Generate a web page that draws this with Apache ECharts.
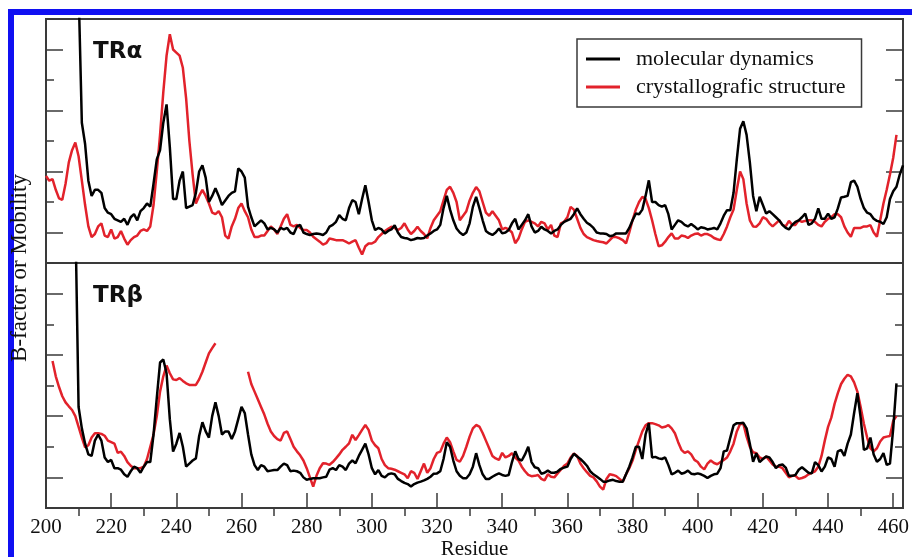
<!DOCTYPE html>
<html lang="en">
<head>
<meta charset="UTF-8">
<title>B-factor or Mobility</title>
<script src="https://cdn.jsdelivr.net/npm/echarts@6.0.0/dist/echarts.min.js"></script>
<style>
    html, body { margin: 0; padding: 0; background: #fff; }
    #main { width: 912px; height: 557px; }
</style>
</head>
<body>
<div id="main"></div>
<script type="text/javascript">
    // residue ticks on the bottom axis
    var majorTicks = [200, 220, 240, 260, 280, 300, 320, 340, 360, 380, 400, 420, 440, 460];
    var minorTicks = [210, 230, 250, 270, 290, 310, 330, 350, 370, 390, 410, 430, 450];

    // TR alpha, crystallographic B-factor (first residue 200)
    var alphaCrystStart = 200;
    var alphaCryst = [
        2.85, 2.7, 2.75, 2.4, 2.12, 2.07, 2.6, 3.3, 3.7, 3.95,
        3.5, 2.7, 1.9, 1.2, 0.85, 0.95, 1.2, 1.3, 0.9, 0.85,
        1.1, 0.8, 0.85, 1.05, 0.8, 0.6, 0.75, 0.85, 0.9, 1.05,
        1.1, 1.05, 1.2, 1.9, 3.0, 4.2, 5.6, 6.8, 7.5, 7.0,
        6.9, 6.8, 6.4, 5.4, 4.0, 2.9, 1.95, 2.2, 2.4, 2.2,
        1.95, 1.65, 1.6, 1.7, 1.5, 0.9, 0.8, 1.2, 1.45, 1.8,
        1.95, 1.7, 1.5, 1.1, 0.85, 0.85, 0.9, 0.9, 1.05, 1.2,
        1.1, 0.95, 1.2, 1.45, 1.6, 1.25, 1.2, 1.25, 1.15, 1.08,
        1.08, 1.0, 0.86, 0.78, 0.7, 0.6, 0.65, 0.8, 0.78, 0.75,
        0.75, 0.75, 0.7, 0.64, 0.7, 0.75, 0.5, 0.28, 0.55, 0.64,
        0.64, 0.7, 0.85, 0.95, 1.05, 1.12, 1.19, 1.15, 1.08, 1.15,
        1.3, 1.1, 0.95, 1.05, 1.19, 1.05, 0.95, 0.81, 1.15, 1.4,
        1.55, 1.7, 2.05, 2.4, 2.5, 2.3, 2.0, 1.4, 1.55, 1.7,
        2.05, 2.3, 2.49, 2.35, 2.0, 1.65, 1.55, 1.7, 1.55, 1.4,
        1.1, 1.15, 1.1, 1.0, 0.65, 0.8, 1.1, 1.35, 1.4, 1.35,
        1.3, 1.2, 1.35, 1.3, 1.1, 1.25, 0.9, 0.85, 1.3, 1.35,
        1.5, 1.84, 1.75, 1.45, 1.15, 0.95, 0.85, 0.8, 0.75, 0.72,
        0.7, 0.68, 0.64, 0.75, 0.86, 0.85, 0.81, 0.75, 0.64, 1.0,
        1.4, 1.75, 2.0, 2.17, 2.1, 1.8, 1.4, 0.95, 0.55, 0.58,
        0.7, 0.85, 0.97, 0.8, 0.8, 0.9, 0.88, 0.82, 0.9, 0.95,
        0.97, 0.9, 0.95, 0.95, 0.9, 0.82, 0.78, 0.75, 0.95, 1.2,
        1.5, 1.75, 2.4, 3.0, 2.75, 1.95, 1.4, 1.2, 1.19, 1.3,
        1.5, 1.45, 1.3, 1.2, 1.3, 1.4, 1.25, 1.2, 1.38, 1.25,
        1.25, 1.4, 1.35, 1.38, 1.4, 1.4, 1.35, 1.25, 1.2, 1.35,
        1.45, 1.5, 1.6, 1.6, 1.5, 1.2, 1.0, 0.86, 1.15, 1.15,
        1.15, 1.2, 1.2, 1.24, 1.0, 0.86, 1.4, 1.95, 2.4, 2.9,
        3.45, 4.2
    ];

    // TR alpha, molecular dynamics mobility (first residue 210)
    var alphaMdStart = 210;
    var alphaMd = [
        9.0, 4.6, 3.9, 2.7, 2.2, 2.4, 2.4, 2.3, 1.8, 1.65,
        1.6, 1.45, 1.4, 1.35, 1.45, 1.25, 1.5, 1.6, 1.4, 1.7,
        1.8, 1.95, 1.85, 2.6, 3.4, 3.7, 4.6, 5.2, 3.8, 2.1,
        2.1, 2.7, 3.0, 1.8, 1.85, 1.9, 2.3, 3.0, 3.2, 2.8,
        2.0, 2.2, 2.45, 2.2, 1.9, 2.05, 2.2, 2.3, 2.35, 3.1,
        3.0, 2.8, 1.85, 1.5, 1.2, 1.3, 1.4, 1.3, 1.1, 1.15,
        1.1, 1.0, 1.15, 1.1, 1.15, 1.0, 0.95, 1.2, 1.25, 1.0,
        0.95, 0.92, 0.95, 0.97, 0.95, 0.92, 1.0, 1.19, 1.25, 1.35,
        1.57, 1.45, 1.4, 1.8, 2.06, 2.0, 1.6, 2.1, 2.55, 2.0,
        1.4, 1.08, 1.15, 1.1, 0.97, 1.05, 1.1, 1.24, 1.0, 0.85,
        0.82, 0.8, 0.75, 0.78, 0.82, 0.8, 0.82, 0.9, 0.97, 1.05,
        1.1, 1.25, 1.8, 2.2, 1.75, 1.4, 1.13, 1.0, 0.92, 1.0,
        1.3, 1.84, 2.17, 1.8, 1.4, 1.05, 0.97, 0.92, 1.0, 1.13,
        0.97, 1.0, 1.08, 1.3, 1.45, 1.1, 1.25, 1.4, 1.6, 1.2,
        1.0, 1.05, 1.19, 1.1, 1.05, 0.97, 1.05, 1.1, 1.25, 1.35,
        1.4, 1.45, 1.6, 1.79, 1.6, 1.45, 1.32, 1.25, 1.15, 1.0,
        0.97, 0.97, 0.95, 0.88, 0.9, 0.97, 0.97, 0.97, 0.97, 1.15,
        1.4, 1.62, 1.6, 1.75, 2.2, 2.71, 2.0, 2.0, 1.9, 1.85,
        1.9, 1.6, 1.1, 1.25, 1.4, 1.35, 1.25, 1.2, 1.28, 1.2,
        1.1, 1.17, 1.15, 1.1, 1.12, 1.15, 1.1, 1.3, 1.55, 1.73,
        1.73, 2.3, 3.4, 4.4, 4.65, 4.2, 3.3, 2.2, 1.7, 2.17,
        1.9, 1.62, 1.7, 1.6, 1.5, 1.4, 1.25, 1.15, 1.1, 1.25,
        1.35, 1.4, 1.5, 1.62, 1.25, 1.3, 1.45, 1.79, 1.45, 1.45,
        1.62, 1.45, 1.5, 1.79, 2.15, 2.17, 2.2, 2.65, 2.7, 2.5,
        2.1, 1.8, 1.65, 1.6, 1.45, 1.38, 1.35, 1.28, 1.5, 2.1,
        2.35, 2.5, 2.9, 3.2
    ];

    // TR beta, crystallographic B-factor (first residue 202, gap 253-261)
    var betaCrystStart = 202;
    var betaCryst = [
        4.8, 4.3, 3.95, 3.65, 3.45, 3.32, 3.2, 3.0,
        2.65, 2.3, 1.98, 2.05, 2.3, 2.44, 2.44, 2.42, 2.36, 2.2,
        2.15, 2.1, 1.8, 1.84, 1.7, 1.5, 1.38, 1.3, 1.3, 1.3,
        1.35, 1.6, 2.0, 2.4, 3.0, 3.8, 4.3, 4.65, 4.4, 4.2,
        4.18, 4.24, 4.15, 4.07, 4.02, 4.02, 4.02, 4.2, 4.45, 4.75,
        5.05, 5.22, 5.38, null, null, null, null, null, null, null,
        null, null, 4.45, 4.05, 3.8, 3.55, 3.3, 3.05, 2.75, 2.5,
        2.35, 2.25, 2.2, 2.45, 2.5, 2.25, 2.0, 1.85, 1.72, 1.55,
        1.3, 1.0, 0.7, 1.05, 1.3, 1.46, 1.45, 1.41, 1.5, 1.62,
        1.75, 1.9, 2.0, 2.11, 2.39, 2.22, 2.38, 2.55, 2.71, 2.55,
        2.2, 2.05, 1.95, 1.6, 1.4, 1.3, 1.28, 1.25, 1.2, 1.15,
        1.1, 0.97, 1.2, 1.15, 0.95, 1.2, 1.45, 1.15, 1.3, 1.6,
        1.8, 1.84, 2.1, 2.3, 2.15, 1.85, 1.57, 1.51, 1.7, 2.0,
        2.33, 2.6, 2.71, 2.66, 2.45, 2.2, 1.95, 1.7, 1.62, 1.57,
        1.8, 1.65, 1.7, 1.79, 1.65, 1.55, 1.35, 1.2, 1.08, 1.04,
        1.05, 1.08, 0.95, 0.9, 1.1, 1.02, 1.0, 1.13, 1.25, 1.38,
        1.45, 1.65, 1.78, 1.7, 1.45, 1.3, 1.17, 1.05, 1.0, 0.87,
        0.7, 0.6, 0.95, 1.1, 1.08, 1.04, 0.95, 0.86, 1.1, 1.3,
        1.55, 1.9, 2.2, 2.5, 2.7, 2.77, 2.77, 2.74, 2.7, 2.63,
        2.65, 2.71, 2.6, 2.44, 2.15, 1.9, 1.8, 1.85, 1.75, 1.57,
        1.5, 1.35, 1.26, 1.45, 1.55, 1.47, 1.43, 1.5, 1.57, 1.65,
        1.85, 2.1, 2.5, 2.74, 2.75, 2.33, 2.0, 1.82, 1.79, 1.65,
        1.6, 1.68, 1.55, 1.42, 1.35, 1.35, 1.3, 1.15, 1.0, 1.05,
        1.05, 0.95, 0.98, 1.02, 1.1, 1.15, 1.2, 1.35, 1.7, 2.2,
        2.65, 2.95, 3.4, 3.75, 4.05, 4.22, 4.35, 4.3, 4.1, 3.8,
        3.3, 2.75, 2.3, 1.95, 1.85, 1.95, 2.17, 2.3, 2.33, 2.35,
        2.85, 3.0
    ];

    // TR beta, molecular dynamics mobility (first residue 209)
    var betaMdStart = 209;
    var betaMd = [
        9.6,
        3.3, 2.6, 2.1, 1.75, 1.7, 2.2, 2.4, 2.2, 1.65, 1.5,
        1.57, 1.3, 1.3, 1.25, 1.1, 1.02, 1.2, 1.35, 1.3, 1.15,
        1.35, 1.5, 1.5, 2.4, 3.6, 4.75, 4.85, 4.4, 2.9, 1.84,
        2.1, 2.45, 2.0, 1.35, 1.45, 1.55, 1.62, 2.35, 2.8, 2.5,
        2.3, 3.0, 3.45, 3.0, 2.4, 2.5, 2.5, 2.25, 2.5, 2.9,
        3.3, 3.1, 2.4, 1.75, 1.4, 1.24, 1.4, 1.35, 1.2, 1.22,
        1.24, 1.24, 1.35, 1.45, 1.4, 1.2, 1.22, 1.2, 1.15, 1.0,
        0.92, 0.95, 0.97, 0.97, 0.97, 1.0, 1.02, 1.25, 1.3, 1.24,
        1.4, 1.35, 1.24, 1.45, 1.55, 1.46, 1.7, 1.9, 2.1, 1.75,
        1.3, 1.1, 1.24, 1.05, 1.0, 1.1, 1.13, 1.1, 0.95, 0.88,
        0.82, 0.78, 0.7, 0.78, 0.83, 0.86, 0.9, 0.95, 1.02, 1.12,
        1.13, 1.2, 1.6, 2.15, 2.0, 1.55, 1.2, 1.05, 0.97, 0.97,
        1.1, 1.35, 1.79, 1.4, 1.1, 0.95, 0.95, 1.02, 1.08, 1.13,
        1.08, 1.05, 1.08, 1.5, 1.85, 1.6, 1.55, 1.75, 2.0, 1.5,
        1.33, 1.3, 1.12, 1.15, 1.22, 1.15, 1.15, 1.19, 1.28, 1.32,
        1.35, 1.6, 1.77, 1.68, 1.6, 1.5, 1.38, 1.2, 1.1, 1.03,
        0.95, 0.86, 0.86, 0.9, 0.92, 0.88, 0.86, 0.86, 1.1, 1.35,
        1.65, 2.0, 2.0, 1.6, 2.4, 2.77, 1.65, 1.67, 1.62, 1.6,
        1.65, 1.4, 1.1, 1.15, 1.22, 1.12, 1.15, 1.22, 1.12, 1.1,
        1.13, 1.1, 1.05, 0.98, 1.05, 1.1, 1.12, 1.3, 1.85, 1.88,
        2.3, 2.7, 2.77, 2.77, 2.78, 2.6, 2.1, 1.51, 1.79, 1.5,
        1.6, 1.68, 1.65, 1.5, 1.3, 1.4, 1.42, 1.32, 1.05, 1.05,
        1.08, 1.25, 1.33, 1.24, 1.15, 1.13, 1.5, 1.4, 1.19, 1.35,
        1.65, 1.6, 1.35, 1.85, 1.9, 1.7, 2.1, 2.4, 3.1, 3.75,
        2.95, 1.9, 1.95, 2.3, 1.75, 1.51, 1.6, 1.79, 1.41, 1.45,
        2.6, 4.07
    ];

    var mdName = 'molecular dynamics';
    var crystName = 'crystallografic structure';

    // pair each value with its residue number
    function toPoints(start, values) {
        return values.map(function (v, i) { return [start + i, v]; });
    }

    var serif = 'Liberation Serif';
    var frameColor = '#3a3a3a';

    // y axes: frame ticks only, on both sides of each panel
    function yAxisFor(gridIndex, position) {
        return {
            gridIndex: gridIndex,
            type: 'value',
            position: position,
            min: 0,
            max: 8,
            interval: 2,
            axisLine: { show: false },
            axisLabel: { show: false },
            splitLine: { show: false },
            axisTick: { show: true, inside: true, length: 8, lineStyle: { color: frameColor, width: 1.5 } },
            minorTick: { show: true, splitNumber: 2, length: 17, lineStyle: { color: frameColor, width: 1.5 } }
        };
    }

    var option = {
        animation: false,
        backgroundColor: '#ffffff',
        grid: [
            { left: 46, top: 19, width: 857, height: 244, show: true, borderColor: frameColor, borderWidth: 2, outerBoundsMode: 'none' },
            { left: 46, top: 263, width: 857, height: 245, show: true, borderColor: frameColor, borderWidth: 2, outerBoundsMode: 'none' }
        ],
        xAxis: [
            { gridIndex: 0, type: 'value', min: 200, max: 463, show: false },
            {
                gridIndex: 1, type: 'value', min: 200, max: 463,
                axisLine: { show: false },
                splitLine: { show: false },
                axisTick: { inside: true, length: 15, customValues: majorTicks, lineStyle: { color: frameColor, width: 1.5 } },
                axisLabel: { customValues: majorTicks, fontFamily: serif, fontSize: 21, color: '#111', margin: 9 },
                name: 'Residue',
                nameLocation: 'middle',
                nameGap: 31,
                nameTextStyle: { fontFamily: serif, fontSize: 21, color: '#111' }
            },
            {
                gridIndex: 1, type: 'value', min: 200, max: 463,
                axisLine: { show: false },
                splitLine: { show: false },
                axisLabel: { show: false },
                axisTick: { inside: true, length: 8, customValues: minorTicks, lineStyle: { color: frameColor, width: 1.5 } }
            }
        ],
        yAxis: [
            yAxisFor(0, 'left'),
            yAxisFor(0, 'right'),
            yAxisFor(1, 'left'),
            yAxisFor(1, 'right')
        ],
        legend: {
            data: [
                { name: mdName, icon: 'rect', itemStyle: { color: '#000000' } },
                { name: crystName, icon: 'rect', itemStyle: { color: '#e2222b' } }
            ],
            orient: 'vertical',
            left: 577,
            top: 39,
            padding: [9, 16, 9, 9],
            itemGap: 6,
            itemWidth: 34,
            itemHeight: 3,
            backgroundColor: '#fff',
            borderColor: frameColor,
            borderWidth: 1.5,
            borderRadius: 0,
            textStyle: { fontFamily: serif, fontSize: 22, color: '#111', padding: [0, 0, 0, 11] }
        },
        graphic: [
            { type: 'rect', shape: { x: 8, y: 9, width: 904, height: 6 }, style: { fill: '#1010f2' } },
            { type: 'rect', shape: { x: 8, y: 9, width: 6, height: 548 }, style: { fill: '#1010f2' } },
            {
                type: 'text', x: 20, y: 268, rotation: Math.PI / 2,
                style: { text: 'B-factor or Mobility', font: '23px "Liberation Serif"', fill: '#111', textAlign: 'center', textVerticalAlign: 'middle' }
            },
            {
                type: 'text', x: 93, y: 52,
                style: { text: 'TRα', font: 'bold 23px "DejaVu Sans"', fill: '#111', textAlign: 'left', textVerticalAlign: 'middle' }
            },
            {
                type: 'text', x: 93, y: 296,
                style: { text: 'TRβ', font: 'bold 23px "DejaVu Sans"', fill: '#111', textAlign: 'left', textVerticalAlign: 'middle' }
            }
        ],
        series: [
            {
                name: mdName, type: 'line', xAxisIndex: 0, yAxisIndex: 0,
                data: toPoints(alphaMdStart, alphaMd), symbol: 'none', z: 3,
                lineStyle: { color: '#000000', width: 2.5 }, itemStyle: { color: '#000000' }
            },
            {
                name: crystName, type: 'line', xAxisIndex: 0, yAxisIndex: 0,
                data: toPoints(alphaCrystStart, alphaCryst), symbol: 'none', z: 2,
                lineStyle: { color: '#e2222b', width: 2.5 }, itemStyle: { color: '#e2222b' }
            },
            {
                name: mdName, type: 'line', xAxisIndex: 1, yAxisIndex: 2,
                data: toPoints(betaMdStart, betaMd), symbol: 'none', z: 3,
                lineStyle: { color: '#000000', width: 2.5 }, itemStyle: { color: '#000000' }
            },
            {
                name: crystName, type: 'line', xAxisIndex: 1, yAxisIndex: 2,
                data: toPoints(betaCrystStart, betaCryst), symbol: 'none', z: 2, connectNulls: false,
                lineStyle: { color: '#e2222b', width: 2.5 }, itemStyle: { color: '#e2222b' }
            }
        ]
    };

    var myChart = echarts.init(document.getElementById('main'));
    myChart.setOption(option);
</script>
</body>
</html>
